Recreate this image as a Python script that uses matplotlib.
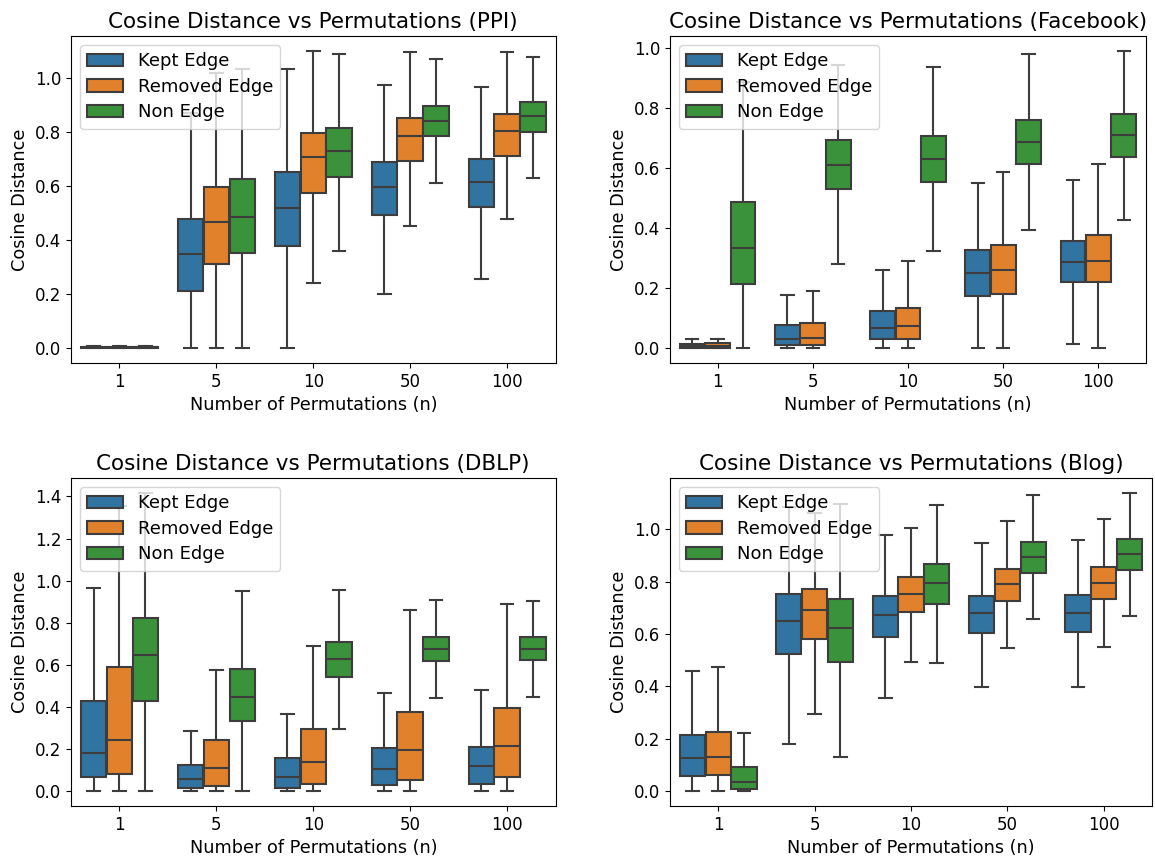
import matplotlib
matplotlib.use("Agg")
import matplotlib.pyplot as plt
from matplotlib.patches import Patch

categories = ["1", "5", "10", "50", "100"]
series = ["Kept Edge", "Removed Edge", "Non Edge"]
colors = ["#3274a1", "#e1812c", "#3a923a"]
line_gray = "#3d3d3d"

# Each entry: (whislo, q1, median, q3, whishi) per category
ppi_kept = [(0.0, 0.001, 0.003, 0.005, 0.007), (0.0, 0.212, 0.347, 0.477, 0.87),
            (0.0, 0.379, 0.518, 0.653, 1.034), (0.202, 0.494, 0.597, 0.689, 0.974),
            (0.257, 0.523, 0.617, 0.699, 0.966)]
ppi_removed = [(0.0, 0.001, 0.004, 0.006, 0.008), (0.0, 0.311, 0.469, 0.597, 1.02),
               (0.242, 0.574, 0.707, 0.795, 1.101), (0.451, 0.692, 0.787, 0.854, 1.095),
               (0.477, 0.711, 0.803, 0.866, 1.096)]
ppi_non = [(0.0, 0.001, 0.003, 0.005, 0.007), (0.0, 0.352, 0.486, 0.625, 1.034),
           (0.360, 0.633, 0.729, 0.815, 1.089), (0.611, 0.784, 0.843, 0.897, 1.070),
           (0.631, 0.799, 0.859, 0.911, 1.080)]

fb_kept = [(0.0, 0.0, 0.006, 0.015, 0.030), (0.0, 0.009, 0.032, 0.077, 0.178),
           (0.0, 0.029, 0.067, 0.122, 0.260), (0.0, 0.175, 0.250, 0.326, 0.551),
           (0.015, 0.220, 0.286, 0.357, 0.561)]
fb_removed = [(0.0, 0.0, 0.007, 0.016, 0.031), (0.0, 0.010, 0.033, 0.083, 0.189),
              (0.0, 0.031, 0.074, 0.135, 0.290), (0.0, 0.180, 0.261, 0.343, 0.586),
              (0.0, 0.220, 0.291, 0.377, 0.611)]
fb_non = [(0.0, 0.215, 0.334, 0.485, 0.887), (0.280, 0.528, 0.608, 0.694, 0.943),
          (0.323, 0.552, 0.628, 0.705, 0.935), (0.394, 0.613, 0.687, 0.758, 0.977),
          (0.425, 0.636, 0.709, 0.778, 0.989)]

dblp_kept = [(0.0, 0.068, 0.182, 0.428, 0.966), (0.0, 0.013, 0.057, 0.124, 0.285),
             (0.0, 0.016, 0.068, 0.155, 0.367), (0.0, 0.029, 0.106, 0.203, 0.466),
             (0.0, 0.035, 0.117, 0.211, 0.480)]
dblp_removed = [(0.0, 0.082, 0.245, 0.589, 1.354), (0.0, 0.025, 0.111, 0.245, 0.576),
                (0.0, 0.035, 0.136, 0.296, 0.691), (0.0, 0.054, 0.196, 0.375, 0.860),
                (0.0, 0.065, 0.215, 0.394, 0.888)]
dblp_non = [(0.0, 0.428, 0.648, 0.822, 1.417), (0.0, 0.331, 0.448, 0.578, 0.950),
            (0.296, 0.542, 0.630, 0.708, 0.955), (0.443, 0.616, 0.675, 0.733, 0.908),
            (0.448, 0.621, 0.675, 0.733, 0.904)]

blog_kept = [(0.0, 0.057, 0.127, 0.216, 0.459), (0.181, 0.522, 0.649, 0.751, 1.086),
             (0.355, 0.588, 0.672, 0.744, 0.977), (0.398, 0.604, 0.679, 0.744, 0.949),
             (0.398, 0.607, 0.682, 0.748, 0.958)]
blog_removed = [(0.0, 0.061, 0.131, 0.225, 0.473), (0.293, 0.580, 0.690, 0.772, 1.062),
                (0.495, 0.684, 0.753, 0.816, 1.006), (0.547, 0.728, 0.791, 0.850, 1.031),
                (0.552, 0.734, 0.796, 0.856, 1.038)]
blog_non = [(0.0, 0.008, 0.034, 0.093, 0.221), (0.130, 0.492, 0.622, 0.734, 1.097),
            (0.489, 0.714, 0.795, 0.866, 1.093), (0.656, 0.833, 0.896, 0.953, 1.130),
            (0.670, 0.843, 0.905, 0.962, 1.139)]

panels = [
    ("PPI", [ppi_kept, ppi_removed, ppi_non]),
    ("Facebook", [fb_kept, fb_removed, fb_non]),
    ("DBLP", [dblp_kept, dblp_removed, dblp_non]),
    ("Blog", [blog_kept, blog_removed, blog_non]),
]

W, H = 1155, 857
fig = plt.figure(figsize=(W / 100, H / 100), dpi=100)
# axes boxes in pixels: left, top, right, bottom
boxes = [(71, 36, 555.5, 363), (670, 36, 1146, 363), (71, 478, 555.5, 806), (670, 478, 1152, 806)]

bw = 0.8 / 3
offsets = [-bw, 0.0, bw]
for (name, groups), (l, t, r, b) in zip(panels, boxes):
    ax = fig.add_axes([l / W, 1 - b / H, (r - l) / W, (b - t) / H])
    for s, (data, col) in enumerate(zip(groups, colors)):
        stats = []
        for st in data:
            lo, q1, med, q3, hi = st
            stats.append(dict(whislo=lo, q1=q1, med=med, q3=q3, whishi=hi, fliers=[]))
        pos = [i + offsets[s] for i in range(len(categories))]
        ax.bxp(stats, positions=pos, widths=bw * 0.98, patch_artist=True,
               showfliers=False, manage_ticks=False,
               boxprops=dict(facecolor=col, edgecolor=line_gray, linewidth=1.5),
               whiskerprops=dict(color=line_gray, linewidth=1.5),
               capprops=dict(color=line_gray, linewidth=1.5),
               medianprops=dict(color=line_gray, linewidth=1.5),
               capwidths=bw * 0.49)
    ax.set_xlim(-0.5, len(categories) - 0.5)
    ax.set_xticks(range(len(categories)))
    ax.set_xticklabels(categories)
    ax.autoscale(axis="y")
    ax.margins(y=0.05)
    ax.tick_params(labelsize=12)
    ax.set_xlabel("Number of Permutations (n)", fontsize=12.7)
    ax.set_ylabel("Cosine Distance", fontsize=12.7)
    ax.set_title(f"Cosine Distance vs Permutations ({name})", fontsize=15.5)
    handles = [Patch(facecolor=c, edgecolor=line_gray, linewidth=1.5, label=lab)
               for c, lab in zip(colors, series)]
    ax.legend(handles=handles, loc="upper left", fontsize=13, labelspacing=0.42)

fig.savefig("out.png", dpi=100)
